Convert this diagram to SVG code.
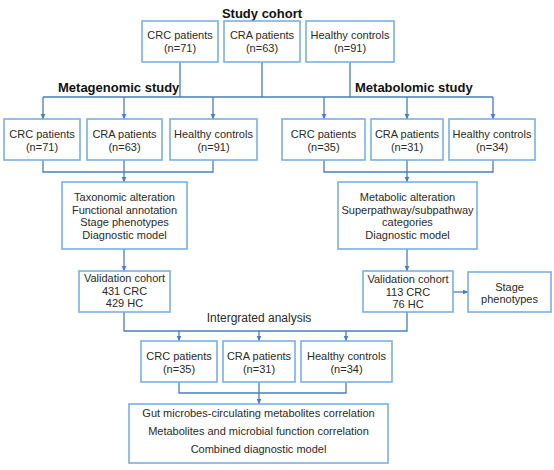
<svg xmlns="http://www.w3.org/2000/svg" width="554" height="470" viewBox="0 0 554 470">
<defs>
<marker id="ah" markerWidth="6" markerHeight="6" refX="5.5" refY="3" orient="auto" markerUnits="userSpaceOnUse">
<path d="M0,0.5 L6,3 L0,5.5 Z" fill="#4a7ebb"/>
</marker>
<style>
.box{fill:#fff;stroke:#7ab0e0;stroke-width:1.6}
.t{font-family:"Liberation Sans",Arial,sans-serif;font-size:11px;fill:#2a2a2a;text-anchor:middle}
.h{font-family:"Liberation Sans",Arial,sans-serif;font-size:13px;font-weight:bold;fill:#111}
.i{font-family:"Liberation Sans",Arial,sans-serif;font-size:12px;fill:#2a2a2a;text-anchor:middle}
.c{fill:none;stroke:#4a7ebb;stroke-width:1.3}
.a{fill:none;stroke:#4a7ebb;stroke-width:1.3;marker-end:url(#ah)}
</style>
</defs>
<rect width="554" height="470" fill="#fff"/>
<text class="h" x="262" y="18" text-anchor="middle">Study cohort</text>
<text class="h" x="58" y="92">Metagenomic study</text>
<text class="h" x="355" y="92">Metabolomic study</text>
<text class="i" x="259" y="322">Intergrated analysis</text>
<g id="connectors">
<path class="c" d="M180,62V97 M262,62V97 M350,62V97 M43,97H493"/>
<path class="a" d="M43,97V119"/>
<path class="a" d="M124,97V119"/>
<path class="a" d="M213,97V119"/>
<path class="a" d="M324,97V119"/>
<path class="a" d="M407,97V119"/>
<path class="a" d="M493,97V119"/>
<path class="c" d="M43,160V172H213V160 M124,160V172"/>
<path class="a" d="M124,172V182"/>
<path class="c" d="M324,160V172H493V160 M407,160V172"/>
<path class="a" d="M407,172V182"/>
<path class="a" d="M124,249V271"/>
<path class="a" d="M407,249V271"/>
<path class="a" d="M453,292H468"/>
<path class="c" d="M124,312V331H407V312"/>
<path class="a" d="M179,331V341"/>
<path class="a" d="M259,331V341"/>
<path class="a" d="M346,331V341"/>
<path class="c" d="M179,382V393H346V382 M259,382V393"/>
<path class="a" d="M259,393V404"/>
</g>
<g id="top-crc"><rect class="box" x="142" y="21" width="76" height="41"/><text class="t" x="180" y="39">CRC patients</text><text class="t" x="180" y="52">(n=71)</text></g>
<g id="top-cra"><rect class="box" x="224" y="21" width="76" height="41"/><text class="t" x="262" y="39">CRA patients</text><text class="t" x="262" y="52">(n=63)</text></g>
<g id="top-hc"><rect class="box" x="306" y="21" width="88" height="41"/><text class="t" x="350" y="39">Healthy controls</text><text class="t" x="350" y="52">(n=91)</text></g>
<g id="mg-crc"><rect class="box" x="4" y="119" width="76" height="41"/><text class="t" x="42" y="138">CRC patients</text><text class="t" x="42" y="151">(n=71)</text></g>
<g id="mg-cra"><rect class="box" x="87" y="119" width="75" height="41"/><text class="t" x="124.5" y="138">CRA patients</text><text class="t" x="124.5" y="151">(n=63)</text></g>
<g id="mg-hc"><rect class="box" x="170" y="119" width="87" height="41"/><text class="t" x="213.5" y="138">Healthy controls</text><text class="t" x="213.5" y="151">(n=91)</text></g>
<g id="mb-crc"><rect class="box" x="282" y="119" width="83" height="41"/><text class="t" x="323.5" y="138">CRC patients</text><text class="t" x="323.5" y="151">(n=35)</text></g>
<g id="mb-cra"><rect class="box" x="371" y="119" width="72" height="41"/><text class="t" x="407" y="138">CRA patients</text><text class="t" x="407" y="151">(n=31)</text></g>
<g id="mb-hc"><rect class="box" x="449" y="119" width="86" height="41"/><text class="t" x="492" y="138">Healthy controls</text><text class="t" x="492" y="151">(n=34)</text></g>
<g id="mg-analysis"><rect class="box" x="62" y="182" width="125" height="67"/>
<text class="t" x="124.5" y="201">Taxonomic alteration</text><text class="t" x="124.5" y="213.5">Functional annotation</text><text class="t" x="124.5" y="226">Stage phenotypes</text><text class="t" x="124.5" y="238.5">Diagnostic model</text></g>
<g id="mb-analysis"><rect class="box" x="338" y="182" width="139" height="67"/>
<text class="t" x="407.5" y="201">Metabolic alteration</text><text class="t" x="407.5" y="213.5">Superpathway/subpathway</text><text class="t" x="407.5" y="226">categories</text><text class="t" x="407.5" y="238.5">Diagnostic model</text></g>
<g id="mg-validation"><rect class="box" x="79" y="271" width="91" height="41"/>
<text class="t" x="124.5" y="282">Validation cohort</text><text class="t" x="124.5" y="295">431 CRC</text><text class="t" x="124.5" y="307">429 HC</text></g>
<g id="mb-validation"><rect class="box" x="363" y="271" width="90" height="41"/>
<text class="t" x="408" y="283">Validation cohort</text><text class="t" x="408" y="296">113 CRC</text><text class="t" x="408" y="308">76 HC</text></g>
<g id="stage"><rect class="box" x="468" y="272" width="83" height="40"/>
<text class="t" x="509.5" y="291">Stage</text><text class="t" x="509.5" y="303">phenotypes</text></g>
<g id="ia-crc"><rect class="box" x="141" y="341" width="76" height="41"/><text class="t" x="179" y="360">CRC patients</text><text class="t" x="179" y="373">(n=35)</text></g>
<g id="ia-cra"><rect class="box" x="223" y="341" width="72" height="41"/><text class="t" x="259" y="360">CRA patients</text><text class="t" x="259" y="373">(n=31)</text></g>
<g id="ia-hc"><rect class="box" x="301" y="341" width="91" height="41"/><text class="t" x="346.5" y="360">Healthy controls</text><text class="t" x="346.5" y="373">(n=34)</text></g>
<g id="integrated"><rect class="box" x="129" y="404" width="259" height="59"/>
<text class="t" x="258.5" y="417">Gut microbes-circulating metabolites correlation</text>
<text class="t" x="258.5" y="435">Metabolites and microbial function correlation</text>
<text class="t" x="258.5" y="453">Combined diagnostic model</text></g>
</svg>
